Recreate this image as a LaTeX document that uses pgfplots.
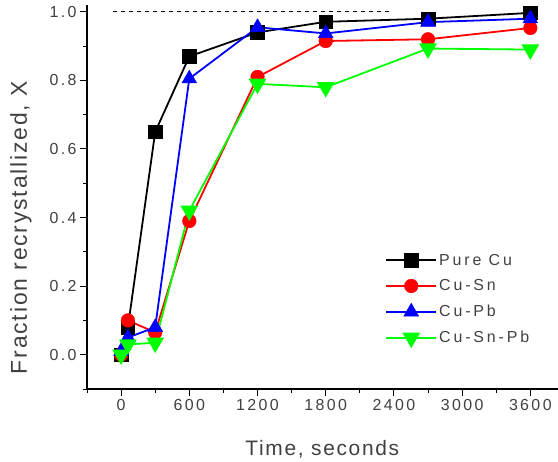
\documentclass[border=0pt]{standalone}
\usepackage{fontspec}
\setmainfont{Liberation Sans}[LetterSpace=8]
\newfontfamily\tickfont{Liberation Sans}[LetterSpace=15]
\newfontfamily\legfont{Liberation Sans}[LetterSpace=18]
\usepackage{pgfplots}
\pgfplotsset{compat=1.18}
\definecolor{txt}{gray}{0.25}
\begin{document}
\begin{tikzpicture}
\useasboundingbox (0,0) rectangle (558bp,462bp);
\begin{axis}[
  at={(87bp,73bp)}, anchor=south west,
  scale only axis, width=470.6bp, height=384bp,
  xmin=-300, xmax=3840, ymin=-0.1, ymax=1.02,
  axis x line*=bottom, axis y line*=left,
  axis line style={line width=1.2bp, -},
  tick align=outside,
  major tick length=7bp, minor tick length=4bp,
  every tick/.style={black, line width=1bp},
  xtick={0,600,1200,1800,2400,3000,3600},
  minor xtick={-300,300,900,1500,2100,2700,3300},
  ytick={0,0.2,0.4,0.6,0.8,1.0},
  minor ytick={-0.1,0.1,0.3,0.5,0.7,0.9},
  /pgf/number format/assume math mode=true,
  yticklabel style={/pgf/number format/fixed, /pgf/number format/fixed zerofill,
     /pgf/number format/precision=1},
  xticklabel style={/pgf/number format/set thousands separator={}},
  ticklabel style={font=\tickfont\fontsize{16}{19}\selectfont, text=txt},
  xtick pos=bottom, ytick pos=left,
  clip=false,
  xlabel={Time, seconds}, ylabel={Fraction recrystallized, X},
  every axis x label/.style={at={(rel axis cs:0.5,0)}, anchor=base, yshift=-66bp,
     font=\fontsize{21}{25}\selectfont, text=txt},
  every axis y label/.style={at={(rel axis cs:0,0.42)}, rotate=90, anchor=center, yshift=66bp,
     font=\fontsize{23}{27}\selectfont, text=txt},
  legend style={draw=none, fill=none, at={(axis cs:2323,0.30)}, anchor=north west,
     font=\legfont\fontsize{16}{19}\selectfont, text=txt, inner sep=0pt,
     row sep=9bp, cells={anchor=west}},
  legend image code/.code={
     \draw[mark repeat=2, mark phase=2] plot coordinates {(0bp,0bp) (25bp,0bp) (50bp,0bp)};},
  every axis plot/.append style={line width=1.8bp, mark options={line width=0.5bp}},
]
% reference level for full recrystallization
\addplot[black, line width=0.8bp, dash pattern=on 4bp off 4bp, forget plot]
  coordinates {(-70,1.0) (2380,1.0)};
\addplot[black, mark=square*, mark size=6.8bp]
  coordinates {(0,0.0) (60,0.08) (300,0.65) (600,0.87) (1200,0.94) (1800,0.971) (2700,0.98) (3600,0.997)};
\addlegendentry{Pure Cu}
\addplot[red, mark=*, mark size=6.8bp]
  coordinates {(0,0.0) (60,0.10) (300,0.065) (600,0.39) (1200,0.81) (1800,0.915) (2700,0.92) (3600,0.953)};
\addlegendentry{Cu-Sn}
\addplot[blue, mark=triangle*, mark size=8.5bp]
  coordinates {(0,0.01) (60,0.05) (300,0.08) (600,0.805) (1200,0.955) (1800,0.937) (2700,0.97) (3600,0.98)};
\addlegendentry{Cu-Pb}
\addplot[green, mark=triangle*, mark size=8.5bp, mark options={rotate=180}]
  coordinates {(0,0.0) (60,0.03) (300,0.035) (600,0.42) (1200,0.79) (1800,0.78) (2700,0.893) (3600,0.89)};
\addlegendentry{Cu-Sn-Pb}
\end{axis}
\end{tikzpicture}
\end{document}
